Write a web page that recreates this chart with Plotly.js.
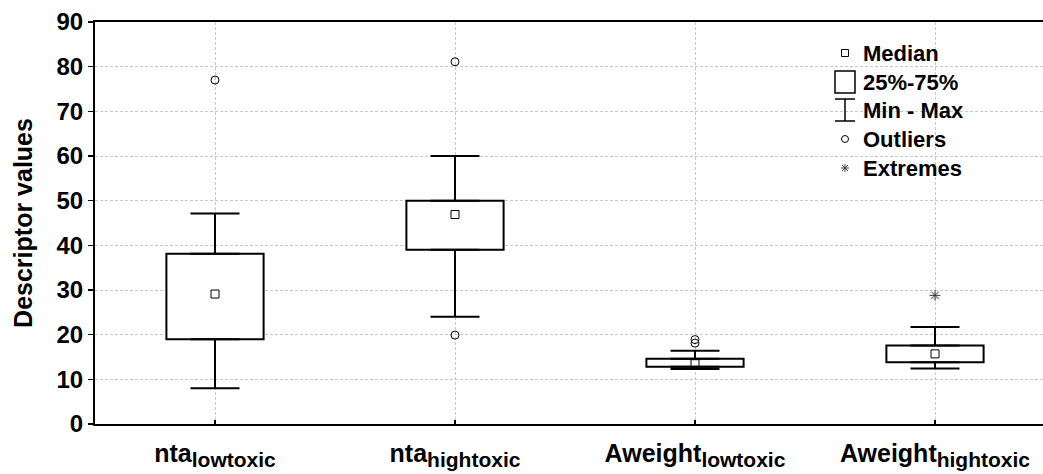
<!DOCTYPE html>
<html>
<head>
<meta charset="utf-8">
<script src="https://cdn.plot.ly/plotly-3.0.1.min.js"></script>
<style>html,body{margin:0;padding:0;background:#fff;}</style>
</head>
<body>
<div id="chart" style="width:1043px;height:474px;"></div>
<script>
// ---- data ----
const categories = ['nta_lowtoxic', 'nta_hightoxic', 'Aweight_lowtoxic', 'Aweight_hightoxic'];
const tickMain = ['nta', 'nta', 'Aweight', 'Aweight'];
const tickSub  = ['lowtoxic', 'hightoxic', 'lowtoxic', 'hightoxic'];
const minVals    = [8.0, 24.0, 12.3, 12.4];
const q1Vals     = [19.0, 39.0, 12.8, 13.8];
const medianVals = [29.1, 46.9, 13.5, 15.7];
const q3Vals     = [38.1, 50.0, 14.6, 17.6];
const maxVals    = [47.1, 60.0, 16.4, 21.7];
const outlierCats = ['nta_lowtoxic', 'nta_hightoxic', 'nta_hightoxic', 'Aweight_lowtoxic', 'Aweight_lowtoxic'];
const outlierVals = [77.0, 81.1, 19.9, 18.1, 18.9];
const extremeCats = ['Aweight_hightoxic'];
const extremeVals = [28.8];
const yTicks = [0, 10, 20, 30, 40, 50, 60, 70, 80, 90];
const legendLabels = ['Median', '25%-75%', 'Min - Max', 'Outliers', 'Extremes'];

// ---- layout geometry ----
const W = 1043, H = 474;
const M = {l: 95, r: 0, t: 22, b: 50};
const plotW = W - M.l - M.r, plotH = H - M.t - M.b;
const px = x => (x - M.l) / plotW;
const py = y => (H - M.b - y) / plotH;
const FONT = '"Liberation Sans", Arial, sans-serif';
const tickLabels = tickMain.map((m, i) =>
  m + '<sub><span style="font-size:21px">' + tickSub[i] + '</span></sub>');

const traces = [
  { // box 25%-75%
    type: 'bar', x: categories, base: q1Vals,
    y: q3Vals.map((v, i) => v - q1Vals[i]),
    width: 0.405,
    marker: {color: '#ffffff', line: {color: '#000', width: 2}},
    hoverinfo: 'skip', showlegend: false
  },
  { // upper whisker
    type: 'scatter', mode: 'markers', x: categories, y: q3Vals,
    marker: {size: 1, opacity: 0},
    error_y: {type: 'data', symmetric: false,
      array: maxVals.map((v, i) => v - q3Vals[i]),
      arrayminus: q3Vals.map(() => 0),
      width: 24.5, thickness: 2, color: '#000'},
    hoverinfo: 'skip', showlegend: false
  },
  { // lower whisker
    type: 'scatter', mode: 'markers', x: categories, y: q1Vals,
    marker: {size: 1, opacity: 0},
    error_y: {type: 'data', symmetric: false,
      array: q1Vals.map(() => 0),
      arrayminus: q1Vals.map((v, i) => v - minVals[i]),
      width: 24.5, thickness: 2, color: '#000'},
    hoverinfo: 'skip', showlegend: false
  },
  { // median
    type: 'scatter', mode: 'markers', x: categories, y: medianVals,
    marker: {symbol: 'square-open', size: 8, color: '#000', line: {width: 1}},
    showlegend: false
  },
  { // outliers
    type: 'scatter', mode: 'markers', x: outlierCats, y: outlierVals,
    marker: {symbol: 'circle-open', size: 8, color: '#000', line: {width: 1}},
    showlegend: false
  },
  { // extremes
    type: 'scatter', mode: 'markers', x: extremeCats, y: extremeVals,
    marker: {symbol: 'asterisk-open', size: 9, color: '#333', line: {width: 1, color: '#333'}},
    showlegend: false
  }
];

// legend (drawn as annotations + small pixel-sized shapes)
const legX = px(845), legTextX = px(861);
const legRowsY = [53, 82, 110, 139, 168].map(py);
const shapes = [
  {type: 'rect', xref: 'paper', yref: 'paper', xsizemode: 'pixel', ysizemode: 'pixel',
   xanchor: legX, yanchor: legRowsY[0], x0: -3.5, x1: 3.5, y0: -3.5, y1: 3.5,
   line: {color: '#000', width: 1}},
  {type: 'rect', xref: 'paper', yref: 'paper', xsizemode: 'pixel', ysizemode: 'pixel',
   xanchor: legX, yanchor: legRowsY[1], x0: -10, x1: 10, y0: -11, y1: 11,
   line: {color: '#000', width: 1.5}},
  {type: 'path', xref: 'paper', yref: 'paper', xsizemode: 'pixel', ysizemode: 'pixel',
   xanchor: legX, yanchor: legRowsY[2],
   path: 'M-10,11H10M0,11V-11M-10,-11H10', line: {color: '#000', width: 1.5}},
  {type: 'circle', xref: 'paper', yref: 'paper', xsizemode: 'pixel', ysizemode: 'pixel',
   xanchor: legX, yanchor: legRowsY[3], x0: -3.5, x1: 3.5, y0: -3.5, y1: 3.5,
   line: {color: '#000', width: 1}},
  {type: 'path', xref: 'paper', yref: 'paper', xsizemode: 'pixel', ysizemode: 'pixel',
   xanchor: legX, yanchor: legRowsY[4],
   path: 'M-4,0H4M0,-4V4M-3,-3L3,3M-3,3L3,-3', line: {color: '#444', width: 1}}
];
const annotations = legendLabels.map((t, i) => ({
  text: t, xref: 'paper', yref: 'paper', x: legTextX, y: legRowsY[i],
  xanchor: 'left', yanchor: 'middle', showarrow: false,
  font: {family: FONT, size: 22, color: '#000', weight: 'bold'}
}));

const layout = {
  width: W, height: H, margin: M,
  paper_bgcolor: '#fff', plot_bgcolor: '#fff',
  showlegend: false,
  font: {family: FONT, color: '#000'},
  xaxis: {
    type: 'category', categoryorder: 'array', categoryarray: categories,
    range: [-0.5, -0.5 + plotW / 240],
    tickvals: categories, ticktext: tickLabels,
    ticks: 'inside', ticklen: 4, tickwidth: 1.5, tickcolor: '#000',
    showline: true, linecolor: '#000', linewidth: 2, mirror: true,
    showgrid: true, gridcolor: '#c8c8c8', gridwidth: 1, griddash: '3px,2px',
    tickfont: {family: FONT, size: 25, color: '#000', weight: 'bold'},
    ticklabelstandoff: 6,
    zeroline: false
  },
  yaxis: {
    range: [0, 90], tickvals: yTicks, ticktext: yTicks.map(String),
    ticks: 'outside', ticklen: 5, tickwidth: 1.5, tickcolor: '#000',
    showline: true, linecolor: '#000', linewidth: 2, mirror: false,
    showgrid: true, gridcolor: '#c8c8c8', gridwidth: 1, griddash: '3px,2px',
    tickfont: {family: FONT, size: 24, color: '#000', weight: 'bold'},
    zeroline: false,
    title: {text: 'Descriptor values', standoff: 17,
      font: {family: FONT, size: 25, color: '#000', weight: 'bold'}}
  },
  shapes: shapes,
  annotations: annotations
};

Plotly.newPlot('chart', traces, layout, {displayModeBar: false, staticPlot: true});
</script>
</body>
</html>
